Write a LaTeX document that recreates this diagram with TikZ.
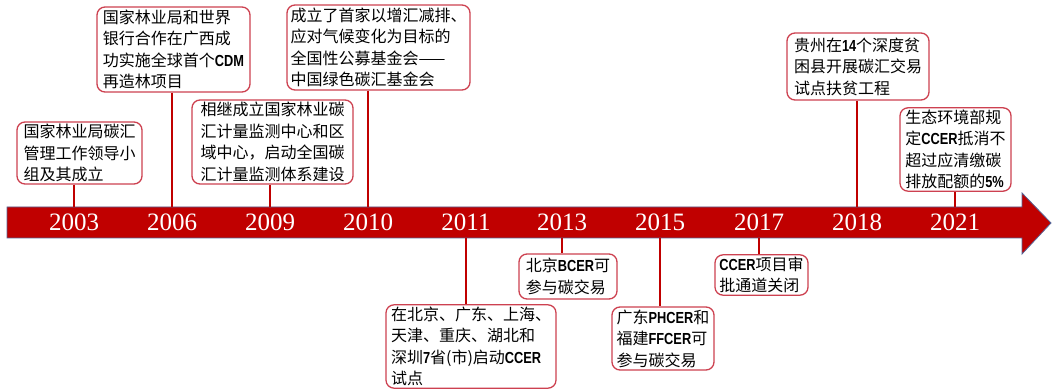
\documentclass[tikz,border=0pt]{standalone}
\usepackage{fontspec}
\newfontfamily\cjk{Noto Sans CJK SC}
\newfontfamily\yr{Liberation Serif}
\newfontfamily\lat[FakeStretch=0.8]{Liberation Sans}
\newcommand{\ltn}[1]{{\lat\bfseries #1}}
\definecolor{barred}{RGB}{192,0,0}
\definecolor{barline}{RGB}{85,100,150}
\definecolor{boxred}{RGB}{205,65,80}
\definecolor{stemred}{RGB}{192,0,0}

\begin{document}
\begin{tikzpicture}[x=1pt,y=-1pt]
        \tikzstyle{event}=[draw=boxred,line width=1.3pt,rounded corners=8pt,fill=white,align=left,inner sep=2pt,font=\cjk\fontsize{16}{21.5}\selectfont]
        \tikzstyle{year}=[text=white,inner sep=0pt,minimum height=31pt,font=\yr\fontsize{25}{25}\selectfont]
        \tikzstyle{stem}=[draw=stemred,line width=2pt]
        \useasboundingbox (0,0) rectangle (1053,390);
       \begin{scope}
         % timeline arrow
         \path[fill=barred,draw=barline,line width=0.8pt] (7,207) -- (1022,207) -- (1022,193) -- (1051,223) -- (1022,254) -- (1022,238) -- (7,238) -- cycle;

         \node [year] (y03) at (74,222.5) {2003};
         \node [year] (y06) at (172,222.5) {2006};
         \node [year] (y09) at (270,222.5) {2009};
         \node [year] (y10) at (368,222.5) {2010};
         \node [year] (y11) at (466,222.5) {2011};
         \node [year] (y13) at (562,222.5) {2013};
         \node [year] (y15) at (660,222.5) {2015};
         \node [year] (y17) at (759,222.5) {2017};
         \node [year] (y18) at (857,222.5) {2018};
         \node [year] (y21) at (955,222.5) {2021};

         % events above the line
         \node [event,minimum width=125pt,minimum height=62pt] (e03) at (79.5,153) {国家林业局碳汇\\管理工作领导小\\组及其成立};
         \node [event,minimum width=153pt,minimum height=85pt] (e06) at (173.5,49.5) {国家林业局和世界\\银行合作在广西成\\功实施全球首个\ltn{CDM}\\再造林项目};
         \node [event,minimum width=161pt,minimum height=84pt] (e09) at (272.5,142) {相继成立国家林业碳\\汇计量监测中心和区\\域中心，启动全国碳\\汇计量监测体系建设};
         \node [event,minimum width=183pt,minimum height=85pt] (e10) at (378.5,47.5) {成立了首家以增汇减排、\\应对气候变化为目标的\\全国性公募基金会——\\中国绿色碳汇基金会};
         \node [event,minimum width=142pt,minimum height=67pt] (e18) at (858,66.5) {贵州在\ltn{14}个深度贫\\困县开展碳汇交易\\试点扶贫工程};
         \node [event,minimum width=111pt,minimum height=83pt] (e21) at (955.5,149.5) {生态环境部规\\定\ltn{CCER}抵消不\\超过应清缴碳\\排放配额的\ltn{5\%}};

         % events below the line
         \node [event,minimum width=170pt,minimum height=81pt] (e11) at (471,346.5) {在北京、广东、上海、\\天津、重庆、湖北和\\深圳\ltn{7}省(市)启动\ltn{CCER}\\试点};
         \node [event,minimum width=98pt,minimum height=45pt] (e13) at (568,276.5) {北京\ltn{BCER}可\\参与碳交易};
         \node [event,minimum width=102pt,minimum height=63pt] (e15) at (663,338.5) {广东\ltn{PHCER}和\\福建\ltn{FFCER}可\\参与碳交易};
         \node [event,minimum width=93pt,minimum height=40pt] (e17) at (761.5,275) {\ltn{CCER}项目审\\批通道关闭};

         \path[stem] (e03.south -| y03) -- (y03.north);
         \path[stem] (e06.south -| y06) -- (y06.north);
         \path[stem] (e09.south -| y09) -- (y09.north);
         \path[stem] (e10.south -| y10) -- (y10.north);
         \path[stem] (e18.south -| y18) -- (y18.north);
         \path[stem] (e21.south -| y21) -- (y21.north);
         \path[stem] (y11.south) -- (e11.north -| y11);
         \path[stem] (y13.south) -- (e13.north -| y13);
         \path[stem] (y15.south) -- (e15.north -| y15);
         \path[stem] (y17.south) -- (e17.north -| y17);
        \end{scope}
\end{tikzpicture}
\end{document}
